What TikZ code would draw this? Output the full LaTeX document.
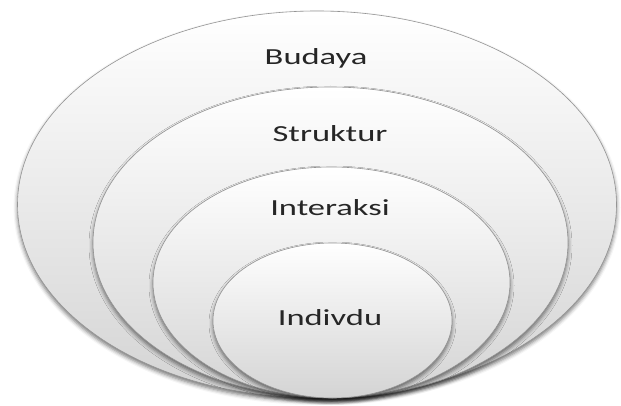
\documentclass[tikz,border=0pt]{standalone}
\usepackage{fontspec}
\newfontfamily\ringfont[FakeStretch=1.5]{Carlito}
\usetikzlibrary{shadows.blur}

\begin{document}
\begin{tikzpicture}[x=1pt,y=1pt,
		ring/.style={draw=black!42, line width=0.6pt, top color=white, middle color=black!3, bottom color=black!17,
			blur shadow={shadow xshift=0pt, shadow yshift=-3pt, shadow blur radius=4pt, shadow opacity=55}},
		lbl/.style={anchor=base, font=\ringfont\fontsize{23}{23}\selectfont, text=black!85}]
		\useasboundingbox (0,0) rectangle (621,405);
		\path[ring] (317,200.5) ellipse [x radius=299.5, y radius=193.5];
		\path[ring] (330.5,162.5) ellipse [x radius=237.5, y radius=155.5];
		\path[ring] (331.5,122.5) ellipse [x radius=178.5, y radius=115.5];
		\path[ring] (332.5,84.5) ellipse [x radius=119.5, y radius=77.5];
		\node[lbl] (budaya) at (316,340) {Budaya};
		\node[lbl] (struktur) at (330,263.3) {Struktur};
		\node[lbl] (interaksi) at (330,190) {Interaksi};
		\node[lbl] (indivdu) at (330,80) {Indivdu};
	\end{tikzpicture}
\end{document}
